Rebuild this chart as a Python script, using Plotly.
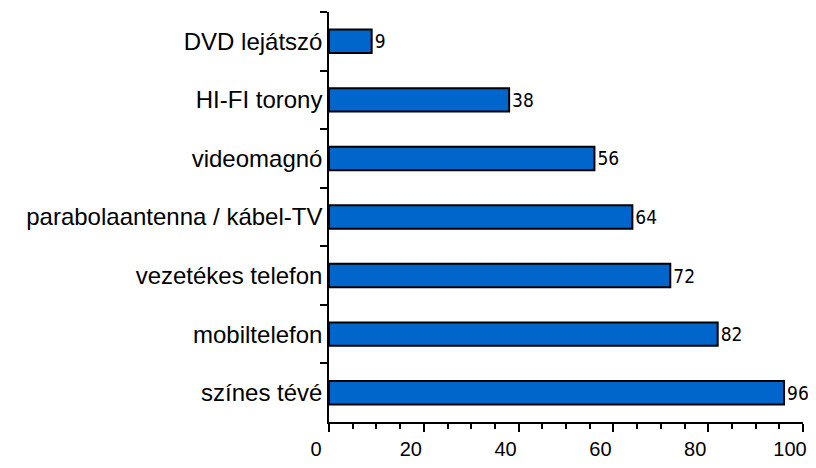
import plotly.graph_objects as go

categories = ["DVD lejátszó", "HI-FI torony", "videomagnó", "parabolaantenna / kábel-TV",
              "vezetékes telefon", "mobiltelefon", "színes tévé"]
values = [9, 38, 56, 64, 72, 82, 96]
x_ticks = [0, 20, 40, 60, 80, 100]

fig = go.Figure(go.Bar(
    y=categories, x=values, orientation="h",
    marker=dict(color="#0066CC", line=dict(color="black", width=2)),
    width=0.4,
    text=[str(v) for v in values], textposition="outside",
    constraintext="none",
    textfont=dict(family="DejaVu Sans Condensed, DejaVu Sans", size=19, color="black"),
    cliponaxis=False,
))

# page body has an 8px default margin; keep the figure inside the viewport
fig.update_layout(
    width=800, height=452,
    margin=dict(l=321, r=5, t=4, b=38, autoexpand=False),
    plot_bgcolor="white", paper_bgcolor="white",
    font=dict(family="Liberation Sans, Arial, sans-serif", size=24, color="black"),
    showlegend=False,
)
fig.update_xaxes(
    range=[0, 100], tickvals=x_ticks, showgrid=False, zeroline=False,
    showline=True, linecolor="black", linewidth=1.5,
    ticks="outside", ticklen=8, tickwidth=2, tickcolor="black",
    minor=dict(dtick=5, ticks="outside", ticklen=5, tickwidth=2, tickcolor="black"),
    tickfont=dict(size=20), automargin=False,
    ticklabelshift=-13, ticklabelstandoff=0, ticklabeloverflow="allow",
)
fig.update_yaxes(
    autorange="reversed", showgrid=False, zeroline=False,
    showline=True, linecolor="black", linewidth=1.5,
    ticks="outside", tickson="boundaries", ticklen=7, tickcolor="black", tickwidth=1.5,
    tickfont=dict(size=24), automargin=False,
)

fig.write_html("out.html")
